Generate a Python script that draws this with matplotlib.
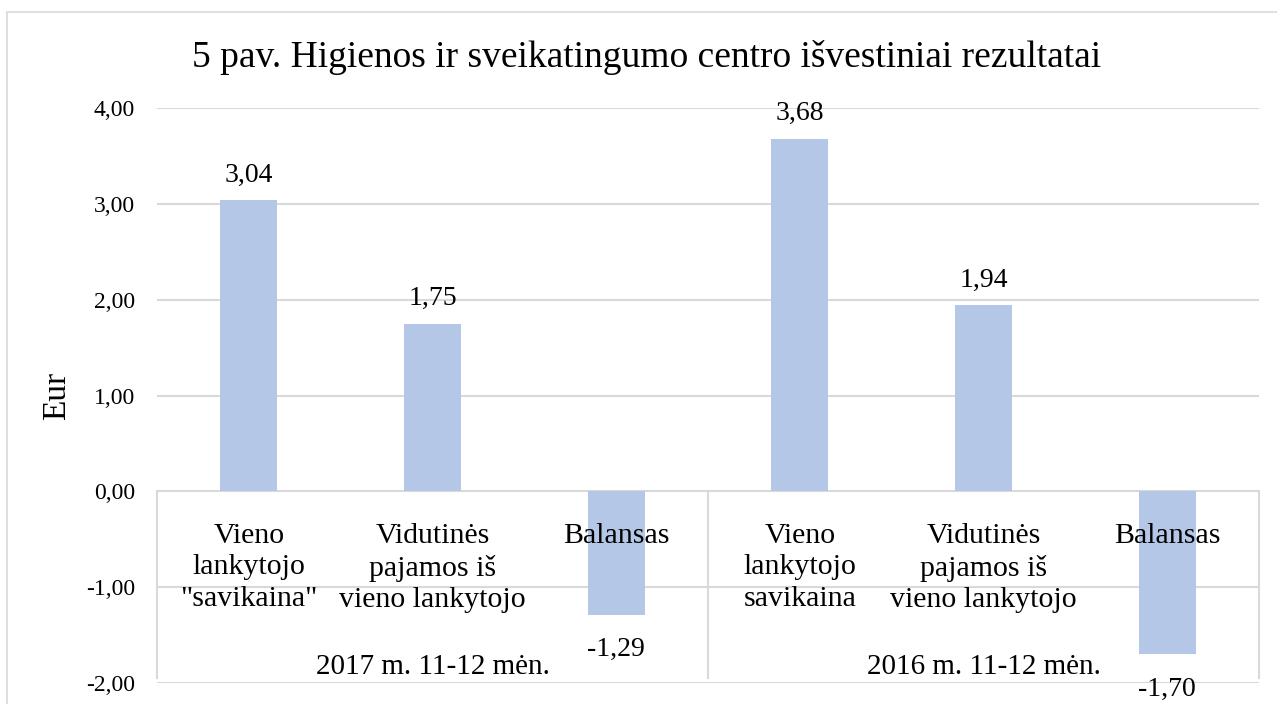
import matplotlib
matplotlib.use('Agg')
import matplotlib.pyplot as plt
from matplotlib.patches import Rectangle

plt.rcParams['font.family'] = ['Liberation Serif', 'DejaVu Serif']

# data
categories = ['Vieno\nlankytojo\n"savikaina"', 'Vidutinės\npajamos iš\nvieno lankytojo', 'Balansas',
              'Vieno\nlankytojo\nsavikaina', 'Vidutinės\npajamos iš\nvieno lankytojo', 'Balansas']
values = [3.04, 1.75, -1.29, 3.68, 1.94, -1.70]
groups = ['2017 m. 11-12 mėn.', '2016 m. 11-12 mėn.']
yticks = [-2, -1, 0, 1, 2, 3, 4]
ytick_labels = ['-2,00', '-1,00', '0,00', '1,00', '2,00', '3,00', '4,00']

title = '5 pav. Higienos ir sveikatingumo centro išvestiniai rezultatai'

bar_col = '#B4C7E7'
grid_col = '#D9D9D9'

W, H = 1277, 704
fig = plt.figure(figsize=(W/100, H/100), dpi=100)

# chart border (runs off the right and bottom of the picture)
fig.patches.append(Rectangle((7/W, -0.05), 1.1, (H-12)/H + 0.05, transform=fig.transFigure,
                             fill=False, edgecolor=grid_col, lw=1.2))

ax = fig.add_axes([157/W, 21/H, (1259-157)/W, (683-108)/H])
x = list(range(len(values)))
ax.bar(x, values, width=0.31, color=bar_col, zorder=2)

ax.set_xlim(-0.5, len(values)-0.5)
ax.set_ylim(-2, 4)
ax.set_yticks(yticks)
ax.set_yticklabels(ytick_labels, fontsize=17)
ax.tick_params(axis='y', length=0, pad=16)
ax.set_xticks([])
for s in ax.spines.values():
    s.set_visible(False)
for t in yticks:
    ax.axhline(t, color=grid_col, lw=1.5, zorder=1)

# group separators below the zero line
n_per = len(values) // len(groups)
for k in range(len(groups)+1):
    ax.plot([k*n_per-0.5]*2, [0, -1.95], color=grid_col, lw=1.5, zorder=1, clip_on=False)

# data labels
for xi, v in zip(x, values):
    lbl = ('%.2f' % v).replace('.', ',')
    off = 18 if v >= 0 else -25
    ax.annotate(lbl, (xi, v), xytext=(0, off), textcoords='offset points',
                ha='center', va='center', fontsize=20)

# category labels
for xi, c in zip(x, categories):
    ax.text(xi, -0.33, c, ha='center', va='top', fontsize=21.5, linespacing=1.27, zorder=3)

for k, g in enumerate(groups):
    ax.text(k*n_per + (n_per-1)/2, -1.83, g, ha='center', va='center', fontsize=21)

ax.set_ylabel('Eur', fontsize=24)
ax.yaxis.set_label_coords(-(157-72)/(1259-157), (492-397)/575 + 2/6, transform=ax.transAxes)

fig.text(647/W, (H-67)/H, title, ha='center', va='baseline', fontsize=27)

fig.savefig('out.png', dpi=100)
